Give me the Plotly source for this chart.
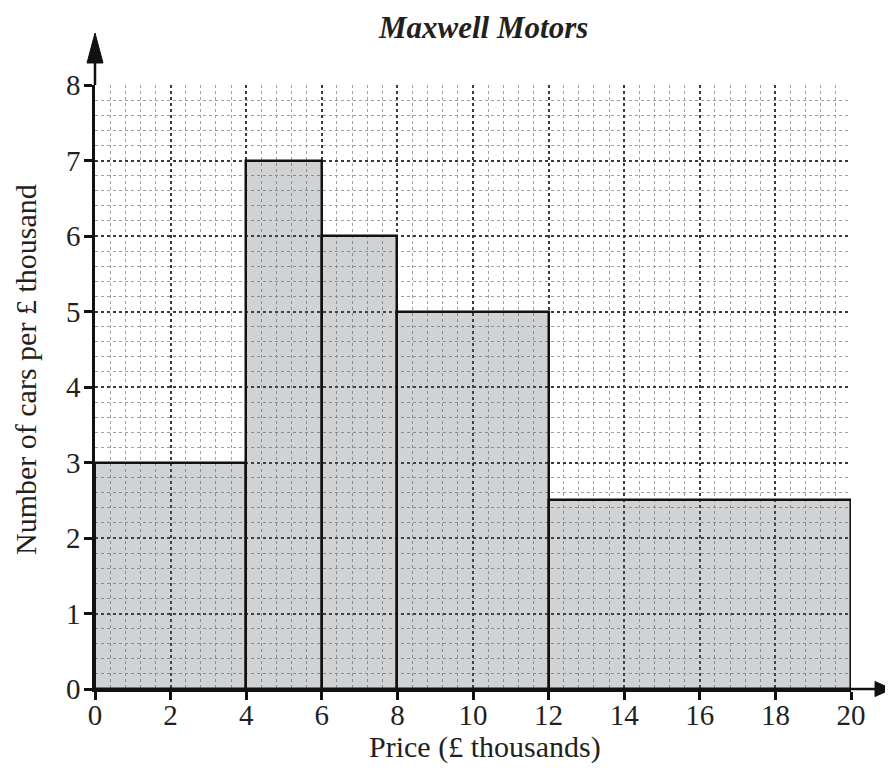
import plotly.graph_objects as go

# Data
class_edges = [0, 4, 6, 8, 12, 20]          # price boundaries (£ thousands)
frequency_density = [3, 7, 6, 5, 2.5]       # number of cars per £ thousand
x_ticks = [0, 2, 4, 6, 8, 10, 12, 14, 16, 18, 20]
y_ticks = [0, 1, 2, 3, 4, 5, 6, 7, 8]
title_text = "Maxwell Motors"
x_title = "Price (£ thousands)"
y_title = "Number of cars per £ thousand"

centers = [(a + b) / 2 for a, b in zip(class_edges[:-1], class_edges[1:])]
widths = [b - a for a, b in zip(class_edges[:-1], class_edges[1:])]

FONT = "Liberation Serif"
TXT = "#231f20"
OFF = 8                      # page body margin
PL, PT, PW, PH = 95, 85, 756, 604   # plot area in page pixels
R, B = 42, 81
L, T = PL - OFF, PT - OFF
W, H = L + PW + R, T + PH + B


def px2paper_x(px):
    return (px - PL) / PW


def px2paper_y(py):
    return (PT + PH - py) / PH


fig = go.Figure()
fig.add_trace(go.Bar(
    x=centers, y=frequency_density, width=widths,
    marker=dict(color="rgba(90,93,100,0.28)", line=dict(color="#111", width=2.5)),
    hoverinfo="skip", showlegend=False,
))

axis_common = dict(
    showline=True, linecolor="#111", linewidth=2.5,
    ticks="outside", ticklen=8, tickwidth=2.5, tickcolor="#111",
    tickfont=dict(family=FONT, size=29, color=TXT),
    showgrid=True, gridcolor="#3a3a3a", griddash="dot", gridwidth=1.5,
    zeroline=False, mirror=False, fixedrange=True,
)

fig.update_layout(
    width=W, height=H,
    margin=dict(l=L, r=R, t=T, b=B),
    plot_bgcolor="white", paper_bgcolor="white",
    bargap=0,
    xaxis=dict(range=[0, 20], tickmode="array", tickvals=x_ticks,
               ticklabelstandoff=-10,
               minor=dict(dtick=0.4, showgrid=True, gridcolor="#a0a0a0",
                          griddash="dot", gridwidth=1, ticks=""),
               **axis_common),
    yaxis=dict(range=[0, 8], tickmode="array", tickvals=y_ticks,
               ticklabelstandoff=-2,
               minor=dict(dtick=0.2, showgrid=True, gridcolor="#a0a0a0",
                          griddash="dot", gridwidth=1, ticks=""),
               **axis_common),
)

# Arrow extensions of the axes
ytip, ybase, yhw = px2paper_y(33), px2paper_y(63), 8 / PW
xtip, xbase, xhh = px2paper_x(892), px2paper_x(875), 7.5 / PH
fig.add_shape(type="line", xref="paper", yref="paper", x0=0, x1=0, y0=1, y1=ybase,
              line=dict(color="#111", width=2.5))
fig.add_shape(type="path", xref="paper", yref="paper",
              path=f"M {-yhw},{ybase} L 0,{ytip} L {yhw},{ybase} Z",
              fillcolor="#111", line=dict(color="#111", width=1))
fig.add_shape(type="line", xref="paper", yref="paper", x0=1, x1=xbase, y0=0, y1=0,
              line=dict(color="#111", width=2.5))
fig.add_shape(type="path", xref="paper", yref="paper",
              path=f"M {xbase},{-xhh} L {xtip},0 L {xbase},{xhh} Z",
              fillcolor="#111", line=dict(color="#111", width=1))

# Titles
fig.add_annotation(text=title_text, xref="paper", yref="paper",
                   x=px2paper_x(483), y=px2paper_y(27), xanchor="center", yanchor="middle",
                   showarrow=False,
                   font=dict(family=FONT, size=31, color=TXT, weight="bold", style="italic"))
fig.add_annotation(text=x_title, xref="paper", yref="paper",
                   x=px2paper_x(485), y=px2paper_y(747), xanchor="center", yanchor="middle",
                   showarrow=False, font=dict(family=FONT, size=30, color=TXT))
fig.add_annotation(text=y_title, xref="paper", yref="paper",
                   x=px2paper_x(25), y=px2paper_y(370), xanchor="center", yanchor="middle",
                   textangle=-90, showarrow=False,
                   font=dict(family=FONT, size=30, color=TXT))

fig.write_html("out.html")
